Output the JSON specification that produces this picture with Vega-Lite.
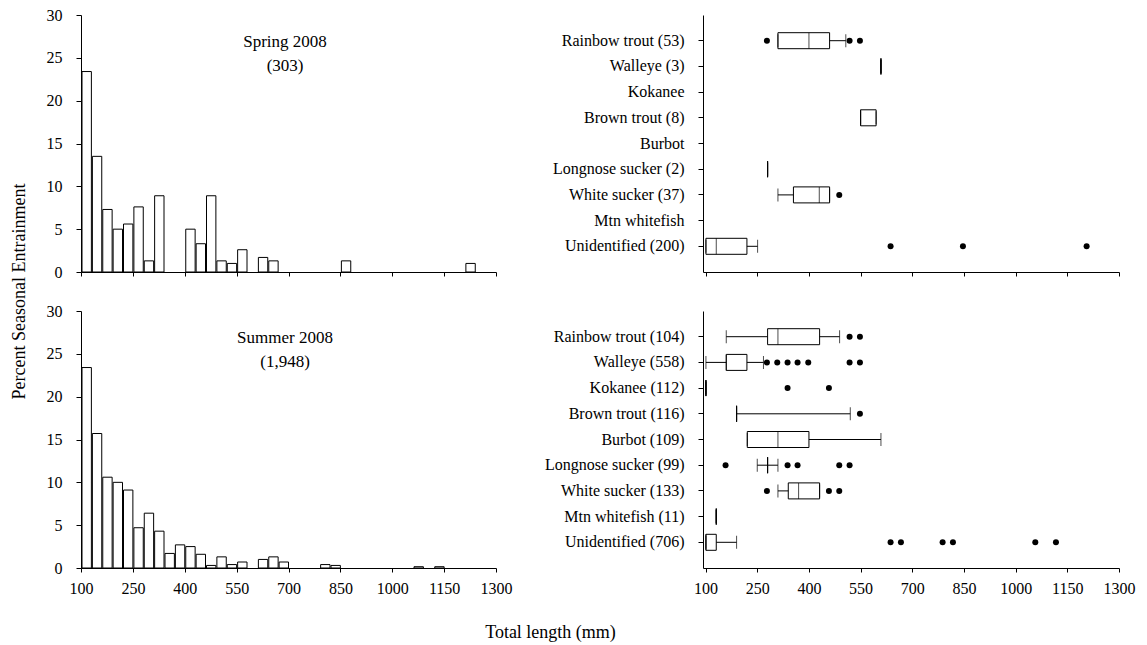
{
  "$schema": "https://vega.github.io/schema/vega-lite/v6.json",
  "background": "white",
  "padding": {"left": 10, "top": 7, "right": 5, "bottom": 5},
  "config": {
    "font": "Liberation Serif",
    "view": {"stroke": null},
    "axis": {"labelFont": "Liberation Serif", "titleFont": "Liberation Serif", "labelColor": "black", "titleColor": "black", "domainColor": "black", "tickColor": "black", "grid": false, "labelFontSize": 16, "titleFontSize": 18, "titleFontWeight": "normal", "domainWidth": 1, "tickWidth": 1, "labelFlush": false, "labelOverlap": false},
    "text": {"font": "Liberation Serif", "color": "black"}
  },
  "datasets": {
    "spring_hist": [
      {"bin_start": 100, "bin_end": 130, "percent": 23.4},
      {"bin_start": 130, "bin_end": 160, "percent": 13.5},
      {"bin_start": 160, "bin_end": 190, "percent": 7.3},
      {"bin_start": 190, "bin_end": 220, "percent": 5.0},
      {"bin_start": 220, "bin_end": 250, "percent": 5.6},
      {"bin_start": 250, "bin_end": 280, "percent": 7.6},
      {"bin_start": 280, "bin_end": 310, "percent": 1.3},
      {"bin_start": 310, "bin_end": 340, "percent": 8.9},
      {"bin_start": 400, "bin_end": 430, "percent": 5.0},
      {"bin_start": 430, "bin_end": 460, "percent": 3.3},
      {"bin_start": 460, "bin_end": 490, "percent": 8.9},
      {"bin_start": 490, "bin_end": 520, "percent": 1.3},
      {"bin_start": 520, "bin_end": 550, "percent": 1.0},
      {"bin_start": 550, "bin_end": 580, "percent": 2.6},
      {"bin_start": 610, "bin_end": 640, "percent": 1.7},
      {"bin_start": 640, "bin_end": 670, "percent": 1.3},
      {"bin_start": 850, "bin_end": 880, "percent": 1.3},
      {"bin_start": 1210, "bin_end": 1240, "percent": 1.0}
    ],
    "summer_hist": [
      {"bin_start": 100, "bin_end": 130, "percent": 23.4},
      {"bin_start": 130, "bin_end": 160, "percent": 15.7},
      {"bin_start": 160, "bin_end": 190, "percent": 10.6},
      {"bin_start": 190, "bin_end": 220, "percent": 10.0},
      {"bin_start": 220, "bin_end": 250, "percent": 9.1},
      {"bin_start": 250, "bin_end": 280, "percent": 4.7},
      {"bin_start": 280, "bin_end": 310, "percent": 6.4},
      {"bin_start": 310, "bin_end": 340, "percent": 4.3},
      {"bin_start": 340, "bin_end": 370, "percent": 1.7},
      {"bin_start": 370, "bin_end": 400, "percent": 2.7},
      {"bin_start": 400, "bin_end": 430, "percent": 2.5},
      {"bin_start": 430, "bin_end": 460, "percent": 1.6},
      {"bin_start": 460, "bin_end": 490, "percent": 0.3},
      {"bin_start": 490, "bin_end": 520, "percent": 1.3},
      {"bin_start": 520, "bin_end": 550, "percent": 0.4},
      {"bin_start": 550, "bin_end": 580, "percent": 0.7},
      {"bin_start": 610, "bin_end": 640, "percent": 1.0},
      {"bin_start": 640, "bin_end": 670, "percent": 1.3},
      {"bin_start": 670, "bin_end": 700, "percent": 0.7},
      {"bin_start": 790, "bin_end": 820, "percent": 0.4},
      {"bin_start": 820, "bin_end": 850, "percent": 0.3},
      {"bin_start": 1060, "bin_end": 1090, "percent": 0.15},
      {"bin_start": 1120, "bin_end": 1150, "percent": 0.15}
    ],
    "spring_text": [
      {"label": "Spring 2008", "x": 690, "y": 26.8},
      {"label": "(303)", "x": 690, "y": 24.1}
    ],
    "summer_text": [
      {"label": "Summer 2008", "x": 690, "y": 26.8},
      {"label": "(1,948)", "x": 690, "y": 24.1}
    ],
    "spring_box": [
      {"label": "Rainbow trout (53)", "lo": 310, "q1": 310, "median": 400, "q3": 460, "hi": 507},
      {"label": "Walleye (3)", "lo": 609, "q1": 609, "median": 609, "q3": 609, "hi": 609},
      {"label": "Brown trout (8)", "lo": 550, "q1": 550, "median": 550, "q3": 595, "hi": 595},
      {"label": "Longnose sucker (2)", "lo": 280, "q1": 280, "median": 280, "q3": 280, "hi": 280},
      {"label": "White sucker (37)", "lo": 310, "q1": 355, "median": 430, "q3": 460, "hi": 460},
      {"label": "Unidentified (200)", "lo": 101, "q1": 101, "median": 131, "q3": 220, "hi": 251}
    ],
    "spring_out": [
      {"label": "Rainbow trout (53)", "value": 278},
      {"label": "Rainbow trout (53)", "value": 518},
      {"label": "Rainbow trout (53)", "value": 548},
      {"label": "White sucker (37)", "value": 488},
      {"label": "Unidentified (200)", "value": 637},
      {"label": "Unidentified (200)", "value": 847},
      {"label": "Unidentified (200)", "value": 1206}
    ],
    "summer_box": [
      {"label": "Rainbow trout (104)", "lo": 160, "q1": 280, "median": 310, "q3": 431, "hi": 489},
      {"label": "Walleye (558)", "lo": 101, "q1": 160, "median": 160, "q3": 220, "hi": 268},
      {"label": "Kokanee (112)", "lo": 101, "q1": 101, "median": 101, "q3": 101, "hi": 101},
      {"label": "Brown trout (116)", "lo": 190, "q1": 190, "median": 190, "q3": 190, "hi": 520},
      {"label": "Burbot (109)", "lo": 221, "q1": 221, "median": 310, "q3": 400, "hi": 609},
      {"label": "Longnose sucker (99)", "lo": 250, "q1": 280, "median": 280, "q3": 280, "hi": 310},
      {"label": "White sucker (133)", "lo": 310, "q1": 340, "median": 370, "q3": 431, "hi": 431},
      {"label": "Mtn whitefish (11)", "lo": 131, "q1": 131, "median": 131, "q3": 131, "hi": 131},
      {"label": "Unidentified (706)", "lo": 101, "q1": 101, "median": 101, "q3": 131, "hi": 190}
    ],
    "summer_out": [
      {"label": "Rainbow trout (104)", "value": 518},
      {"label": "Rainbow trout (104)", "value": 548},
      {"label": "Walleye (558)", "value": 278},
      {"label": "Walleye (558)", "value": 308},
      {"label": "Walleye (558)", "value": 338},
      {"label": "Walleye (558)", "value": 367},
      {"label": "Walleye (558)", "value": 398},
      {"label": "Walleye (558)", "value": 518},
      {"label": "Walleye (558)", "value": 548},
      {"label": "Kokanee (112)", "value": 338},
      {"label": "Kokanee (112)", "value": 458},
      {"label": "Brown trout (116)", "value": 548},
      {"label": "Longnose sucker (99)", "value": 158},
      {"label": "Longnose sucker (99)", "value": 338},
      {"label": "Longnose sucker (99)", "value": 367},
      {"label": "Longnose sucker (99)", "value": 488},
      {"label": "Longnose sucker (99)", "value": 518},
      {"label": "White sucker (133)", "value": 278},
      {"label": "White sucker (133)", "value": 458},
      {"label": "White sucker (133)", "value": 488},
      {"label": "Unidentified (706)", "value": 637},
      {"label": "Unidentified (706)", "value": 667},
      {"label": "Unidentified (706)", "value": 788},
      {"label": "Unidentified (706)", "value": 818},
      {"label": "Unidentified (706)", "value": 1057},
      {"label": "Unidentified (706)", "value": 1117}
    ]
  },
  "columns": 2,
  "bounds": "flush",
  "spacing": {"row": 39, "column": 207},
  "concat": [
    {
      "width": 415, "height": 257,
      "layer": [
        {
          "data": {"name": "spring_hist"},
          "mark": {"type": "bar", "fill": "white", "stroke": "black", "strokeWidth": 1},
          "encoding": {
            "x": {"field": "bin_start", "type": "quantitative", "bin": {"binned": true, "step": 30},
                  "scale": {"domain": [100, 1300], "nice": false, "zero": false},
                  "axis": {"values": [100, 250, 400, 550, 700, 850, 1000, 1150, 1300], "labels": false, "tickSize": 4, "title": null}},
            "x2": {"field": "bin_end"},
            "y": {"field": "percent", "type": "quantitative", "scale": {"domain": [0, 30], "nice": false},
                  "axis": {"values": [0, 5, 10, 15, 20, 25, 30], "tickSize": 5, "labelPadding": 14,
                           "title": "Percent Seasonal Entrainment", "titleX": -53, "titleY": 276}}
          }
        },
        {
          "data": {"name": "spring_text"},
          "mark": {"type": "text", "fontSize": 17, "align": "center", "baseline": "middle"},
          "encoding": {
            "x": {"field": "x", "type": "quantitative"},
            "y": {"field": "y", "type": "quantitative"},
            "text": {"field": "label"}
          }
        }
      ]
    },
    {
      "width": 416, "height": 257,
      "encoding": {
        "y": {"field": "label", "type": "nominal", "sort": null,
              "scale": {"domain": ["Rainbow trout (53)", "Walleye (3)", "Kokanee", "Brown trout (8)", "Burbot", "Longnose sucker (2)", "White sucker (37)", "Mtn whitefish", "Unidentified (200)"], "paddingInner": 0, "paddingOuter": 0.5},
              "axis": {"title": null, "tickSize": 5, "labelPadding": 14}}
      },
      "layer": [
        {
          "data": {"name": "spring_box"},
          "mark": {"type": "rule", "color": "black", "strokeWidth": 1},
          "encoding": {
            "x": {"field": "lo", "type": "quantitative", "scale": {"domain": [92.5, 1300], "nice": false, "zero": false},
                  "axis": {"values": [100, 250, 400, 550, 700, 850, 1000, 1150, 1300], "labels": false, "tickSize": 4, "title": null}},
            "x2": {"field": "hi"}
          }
        },
        {
          "data": {"name": "spring_box"},
          "mark": {"type": "bar", "size": 16, "fill": "white", "stroke": "black", "strokeWidth": 1},
          "encoding": {"x": {"field": "q1", "type": "quantitative"}, "x2": {"field": "q3"}}
        },
        {
          "data": {"name": "spring_box"},
          "mark": {"type": "tick", "size": 16, "thickness": 1, "color": "black", "orient": "vertical"},
          "encoding": {"x": {"field": "median", "type": "quantitative"}}
        },
        {
          "data": {"name": "spring_box"},
          "mark": {"type": "tick", "size": 13, "thickness": 1, "color": "black", "orient": "vertical"},
          "encoding": {"x": {"field": "lo", "type": "quantitative"}}
        },
        {
          "data": {"name": "spring_box"},
          "mark": {"type": "tick", "size": 13, "thickness": 1, "color": "black", "orient": "vertical"},
          "encoding": {"x": {"field": "hi", "type": "quantitative"}}
        },
        {
          "data": {"name": "spring_out"},
          "mark": {"type": "point", "filled": true, "color": "black", "size": 36, "opacity": 1},
          "encoding": {"x": {"field": "value", "type": "quantitative"}}
        }
      ]
    },
    {
      "width": 415, "height": 257,
      "layer": [
        {
          "data": {"name": "summer_hist"},
          "mark": {"type": "bar", "fill": "white", "stroke": "black", "strokeWidth": 1},
          "encoding": {
            "x": {"field": "bin_start", "type": "quantitative", "bin": {"binned": true, "step": 30},
                  "scale": {"domain": [100, 1300], "nice": false, "zero": false},
                  "axis": {"values": [100, 250, 400, 550, 700, 850, 1000, 1150, 1300], "format": "d", "tickSize": 4, "labelPadding": 8,
                           "title": "Total length (mm)", "titleX": 469, "titleY": 55}},
            "x2": {"field": "bin_end"},
            "y": {"field": "percent", "type": "quantitative", "scale": {"domain": [0, 30], "nice": false},
                  "axis": {"values": [0, 5, 10, 15, 20, 25, 30], "tickSize": 5, "labelPadding": 14, "title": null}}
          }
        },
        {
          "data": {"name": "summer_text"},
          "mark": {"type": "text", "fontSize": 17, "align": "center", "baseline": "middle"},
          "encoding": {
            "x": {"field": "x", "type": "quantitative"},
            "y": {"field": "y", "type": "quantitative"},
            "text": {"field": "label"}
          }
        }
      ]
    },
    {
      "width": 416, "height": 257,
      "encoding": {
        "y": {"field": "label", "type": "nominal", "sort": null,
              "scale": {"domain": ["Rainbow trout (104)", "Walleye (558)", "Kokanee (112)", "Brown trout (116)", "Burbot (109)", "Longnose sucker (99)", "White sucker (133)", "Mtn whitefish (11)", "Unidentified (706)"], "paddingInner": 0, "paddingOuter": 0.5},
              "axis": {"title": null, "tickSize": 5, "labelPadding": 14}}
      },
      "layer": [
        {
          "data": {"name": "summer_box"},
          "mark": {"type": "rule", "color": "black", "strokeWidth": 1},
          "encoding": {
            "x": {"field": "lo", "type": "quantitative", "scale": {"domain": [92.5, 1300], "nice": false, "zero": false},
                  "axis": {"values": [100, 250, 400, 550, 700, 850, 1000, 1150, 1300], "format": "d", "tickSize": 4, "labelPadding": 8, "title": null}},
            "x2": {"field": "hi"}
          }
        },
        {
          "data": {"name": "summer_box"},
          "mark": {"type": "bar", "size": 16, "fill": "white", "stroke": "black", "strokeWidth": 1},
          "encoding": {"x": {"field": "q1", "type": "quantitative"}, "x2": {"field": "q3"}}
        },
        {
          "data": {"name": "summer_box"},
          "mark": {"type": "tick", "size": 16, "thickness": 1, "color": "black", "orient": "vertical"},
          "encoding": {"x": {"field": "median", "type": "quantitative"}}
        },
        {
          "data": {"name": "summer_box"},
          "mark": {"type": "tick", "size": 13, "thickness": 1, "color": "black", "orient": "vertical"},
          "encoding": {"x": {"field": "lo", "type": "quantitative"}}
        },
        {
          "data": {"name": "summer_box"},
          "mark": {"type": "tick", "size": 13, "thickness": 1, "color": "black", "orient": "vertical"},
          "encoding": {"x": {"field": "hi", "type": "quantitative"}}
        },
        {
          "data": {"name": "summer_out"},
          "mark": {"type": "point", "filled": true, "color": "black", "size": 36, "opacity": 1},
          "encoding": {"x": {"field": "value", "type": "quantitative"}}
        }
      ]
    }
  ]
}
